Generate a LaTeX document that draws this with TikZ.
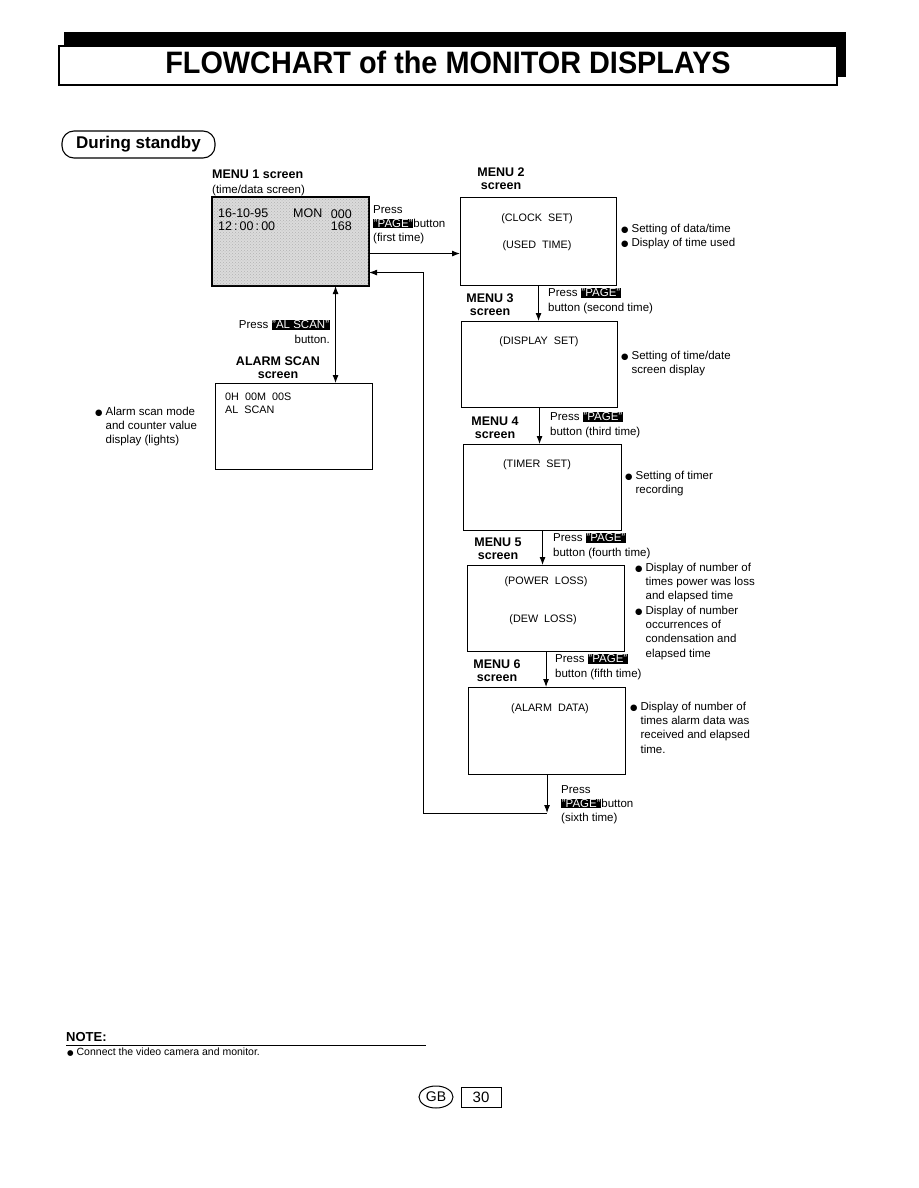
\documentclass[tikz,border=0pt]{standalone}
\usepackage{fontspec}
\setmainfont{Liberation Sans}
\newfontfamily\djv{DejaVu Sans}
\usetikzlibrary{arrows.meta,calc,shapes.geometric,patterns}
\newcommand\keyhl[1]{{\setlength\fboxsep{0.7pt}\colorbox{black}{\textcolor{white}{#1}}}}
\newcommand\mybody{\fontsize{11.5}{14.3}\selectfont}
\newcommand\mylab{\fontsize{12.5}{13}\selectfont\bfseries}
\newcommand\myscr{\fontsize{10.8}{13}\selectfont}
\newcommand\bul{{\djv\fontsize{8.5}{9}\selectfont ●}}
\begin{document}
\begin{tikzpicture}[x=1pt,y=-1pt,
  scr/.style={draw, line width=1.1pt, anchor=north west, inner sep=0pt},
  arr/.style={line width=0.9pt, -{Latex[length=8pt,width=6pt]}},
  arrboth/.style={line width=0.9pt, {Latex[length=8pt,width=6pt]}-{Latex[length=8pt,width=6pt]}},
  ln/.style={line width=0.9pt},
  lab/.style={align=center, font=\mylab, inner sep=0pt, anchor=north},
  txt/.style={align=left, font=\mybody, inner sep=0pt, anchor=north west},
  stxt/.style={font=\myscr, inner sep=0pt},
  ]
\useasboundingbox[fill=white] (0,0) rectangle (918,1188);

% title
\fill (64,32) rectangle (846,77);
\node[draw, line width=1.6pt, fill=white, anchor=north west, minimum width=778pt, minimum height=39pt, inner sep=0pt] (title) at (58,45) {};
\node[inner sep=0pt, font=\fontsize{31}{31}\selectfont\bfseries] (ttext) at (448,62) {\scalebox{0.93}[1]{FLOWCHART of the MONITOR DISPLAYS}};

% during standby
\node[draw, rounded corners=12pt, line width=1.1pt, minimum width=153pt, minimum height=27pt, inner sep=0pt, font=\fontsize{17}{17}\selectfont\bfseries] (standby) at (138.5,144.5) {During standby};

% MENU 1
\node[lab, anchor=north west] (m1lab) at (212,170) {MENU 1 screen};
\node[txt] (m1sub) at (212,185) {(time/data screen)};
\node[scr, fill=black!14, minimum width=156pt, minimum height=88pt] (m1) at (212,197) {};
\fill[pattern=crosshatch dots, pattern color=black!30] (m1.north west) rectangle (m1.south east);
\draw[line width=1.1pt] (m1.north west) rectangle (m1.south east);
\node[inner sep=0pt, anchor=north west, font=\fontsize{12.5}{13}\selectfont] (m1a) at (218,209) {16-10-95};
\node[inner sep=0pt, anchor=north west, font=\fontsize{12.5}{13}\selectfont] (m1b) at (293,209) {MON};
\node[inner sep=0pt, anchor=north east, font=\fontsize{12.5}{13}\selectfont] (m1c) at (352,210) {000};
\node[inner sep=0pt, anchor=north west, font=\fontsize{12.5}{13}\selectfont] (m1d) at (218,222) {12\,:\,00\,:\,00};
\node[inner sep=0pt, anchor=north east, font=\fontsize{12.5}{13}\selectfont] (m1e) at (352,222) {168};

% MENU 2
\node[lab] (m2lab) at (501,168) {MENU 2\\screen};
\node[scr, minimum width=156pt, minimum height=88pt] (m2) at (460,197) {};
\node[stxt] (m2a) at (537,219) {(CLOCK~~SET)};
\node[stxt] (m2b) at (537,246) {(USED~~TIME)};
\node[txt] (m2n) at (621,222) {\begin{tabular}{@{}l@{\hspace{3pt}}l@{}}\bul & Setting of data/time\\ \bul & Display of time used\end{tabular}};
\node[txt] (p1) at (373,205) {Press\\\keyhl{"PAGE"}button\\(first time)};
\draw[arr] ([yshift=-12pt]m1.east) -- ([yshift=-12pt]m2.west);

% return loop
\coordinate (ret) at (546.5,813);
\coordinate (retl) at (423,813);

% ALARM SCAN
\node[txt, anchor=north east, align=right] (pal) at (330,320) {Press \keyhl{"AL SCAN"}\\button.};
\node[lab] (allab) at (278,357) {ALARM SCAN\\screen};
\node[scr, minimum width=157pt, minimum height=86pt] (al) at (215,383) {};
\node[stxt, anchor=north west, align=left] (ala) at (225,393) {0H~~00M~~00S\\AL~~SCAN};
\node[txt] (aln) at (95,405) {\begin{tabular}{@{}l@{\hspace{3pt}}l@{}}\bul & Alarm scan mode\\ & and counter value\\ & display (lights)\end{tabular}};
\draw[arrboth] ([xshift=45pt]m1.south) -- ([xshift=45pt]m1.south |- al.north);

% MENU 3
\node[lab] (m3lab) at (490,294) {MENU 3\\screen};
\node[scr, minimum width=156pt, minimum height=86pt] (m3) at (461,321) {};
\node[stxt] (m3a) at (539,342) {(DISPLAY~~SET)};
\node[txt] (m3n) at (621,349) {\begin{tabular}{@{}l@{\hspace{3pt}}l@{}}\bul & Setting of time/date\\ & screen display\end{tabular}};
\node[txt] (p2) at (548,288) {Press \keyhl{"PAGE"}\\button (second time)};
\draw[arr] (m2.south) -- (m2.south |- m3.north);

% MENU 4
\node[lab] (m4lab) at (495,417) {MENU 4\\screen};
\node[scr, minimum width=158pt, minimum height=86pt] (m4) at (463,444) {};
\node[stxt] (m4a) at (537,465) {(TIMER~~SET)};
\node[txt] (m4n) at (625,469) {\begin{tabular}{@{}l@{\hspace{3pt}}l@{}}\bul & Setting of timer\\ & recording\end{tabular}};
\node[txt] (p3) at (550,412) {Press \keyhl{"PAGE"}\\button (third time)};
\draw[arr] (m3.south) -- (m3.south |- m4.north);

% MENU 5
\node[lab] (m5lab) at (498,538) {MENU 5\\screen};
\node[scr, minimum width=157pt, minimum height=86pt] (m5) at (467,565) {};
\node[stxt] (m5a) at (546,582) {(POWER~~LOSS)};
\node[stxt] (m5b) at (543,620) {(DEW~~LOSS)};
\node[txt] (m5n) at (635,561) {\begin{tabular}{@{}l@{\hspace{3pt}}l@{}}\bul & Display of number of\\ & times power was loss\\ & and elapsed time\\ \bul & Display of number\\ & occurrences of\\ & condensation and\\ & elapsed time\end{tabular}};
\node[txt] (p4) at (553,533) {Press \keyhl{"PAGE"}\\button (fourth time)};
\draw[arr] (m4.south) -- (m4.south |- m5.north);

% MENU 6
\node[lab] (m6lab) at (497,660) {MENU 6\\screen};
\node[scr, minimum width=157pt, minimum height=87pt] (m6) at (468,687) {};
\node[stxt] (m6a) at (550,709) {(ALARM~~DATA)};
\node[txt] (m6n) at (630,700) {\begin{tabular}{@{}l@{\hspace{3pt}}l@{}}\bul & Display of number of\\ & times alarm data was\\ & received and elapsed\\ & time.\end{tabular}};
\node[txt] (p5) at (555,654) {Press \keyhl{"PAGE"}\\button (fifth time)};
\draw[arr] (m5.south) -- (m5.south |- m6.north);

% sixth press and loop back
\node[txt] (p6) at (561,785) {Press\\\keyhl{"PAGE"}button\\(sixth time)};
\draw[arr] (m6.south) -- (m6.south |- ret);
\draw[ln] (ret) -- (retl);
\draw[arr] (retl) |- ([yshift=-31pt]m1.east);

% note
\node[inner sep=0pt, anchor=north west, font=\fontsize{13}{13}\selectfont\bfseries] (note) at (66,1032) {NOTE:};
\coordinate (nlr) at (426,1045);
\draw[line width=1pt] (note.south west |- nlr) -- (nlr);
\node[inner sep=0pt, anchor=north west, font=\fontsize{10.5}{12}\selectfont] (notet) at (67,1048) {{\djv\fontsize{7.5}{8}\selectfont ●} Connect the video camera and monitor.};

% page number
\node[draw, ellipse, line width=1pt, minimum width=34pt, minimum height=22pt, inner sep=0pt, font=\fontsize{14}{14}\selectfont] (gb) at (436,1097) {GB};
\node[draw, line width=1pt, minimum width=40pt, minimum height=20pt, inner sep=0pt, font=\fontsize{15}{15}\selectfont] (pg) at (481,1097) {30};
\end{tikzpicture}
\end{document}
